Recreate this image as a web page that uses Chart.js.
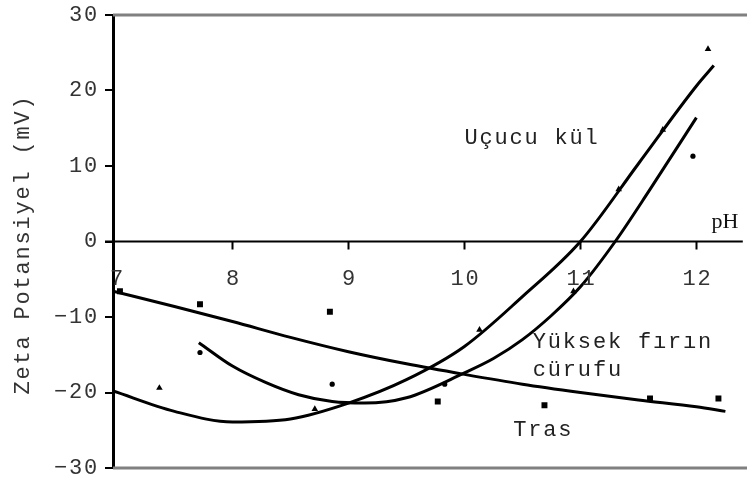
<!DOCTYPE html>
<html>
<head>
<meta charset="utf-8">
<script src="https://cdn.jsdelivr.net/npm/chart.js@4"></script>
<style>
  html, body { margin: 0; padding: 0; background: #fff; }
  #wrap { width: 747px; height: 479px; }
</style>
</head>
<body>
<div id="wrap"><canvas id="zetaChart" width="747" height="479"></canvas></div>
<script>
// Tick labels
const xTickLabels = [7, 8, 9, 10, 11, 12];
const yTickLabels = [30, 20, 10, 0, -10, -20, -30];

// Measured points (pH, zeta mV)
const trasPh = [7.03, 7.72, 8.84, 9.77, 10.69, 11.6, 12.19];
const trasZeta = [-6.6, -8.3, -9.3, -21.2, -21.7, -20.8, -20.8];

const curufPh = [7.72, 8.86, 9.83, 11.97];
const curufZeta = [-14.7, -18.9, -18.9, 11.3];

const kulPh = [7.37, 8.71, 10.13, 10.94, 11.33, 11.71, 12.1];
const kulZeta = [-19.4, -22.2, -11.7, -6.6, 6.9, 14.8, 25.5];

// Trend lines
const trasFitPh = [6.97, 7.5, 8.0, 8.5, 9.0, 9.5, 10.0, 10.5, 11.0, 11.5, 12.0, 12.25];
const trasFitZeta = [-6.6, -8.6, -10.6, -12.7, -14.6, -16.2, -17.6, -18.9, -20.0, -21.0, -21.9, -22.5];

const curufFitPh = [7.71, 8.0, 8.29, 8.57, 8.86, 9.14, 9.5, 10.0, 10.25, 10.5, 10.75, 11.0, 11.3, 11.6, 12.0];
const curufFitZeta = [-13.4, -16.5, -18.7, -20.3, -21.2, -21.4, -20.7, -17.4, -15.5, -13.0, -9.8, -6.0, 0, 6.9, 16.4];

const kulFitPh = [6.97, 7.5, 8.0, 8.5, 9.0, 9.5, 10.0, 10.5, 11.0, 11.5, 12.0, 12.15];
const kulFitZeta = [-19.8, -22.5, -23.9, -23.5, -21.4, -18.3, -13.9, -7.3, 0, 10.3, 20.6, 23.3];

const toXY = (xs, ys) => xs.map((x, i) => ({ x: x, y: ys[i] }));

const monoFont = '"Liberation Mono", "DejaVu Sans Mono", monospace';

function fitLine(label, xs, ys) {
    return {
        label: label,
        data: toXY(xs, ys),
        showLine: true,
        borderColor: '#000',
        borderWidth: 3,
        cubicInterpolationMode: 'monotone',
        pointRadius: 0,
        fill: false
    };
}

function markers(label, xs, ys, style, radius) {
    return {
        label: label,
        data: toXY(xs, ys),
        showLine: false,
        pointStyle: style,
        pointRadius: radius,
        pointBackgroundColor: '#000',
        pointBorderColor: '#000',
        pointBorderWidth: 0
    };
}

// Axis decorations, tick labels and series labels
const decorPlugin = {
    id: 'decor',
    beforeDatasetsDraw(chart) {
        const ctx = chart.ctx;
        const area = chart.chartArea;
        const xs = chart.scales.x;
        const ys = chart.scales.y;
        const y0 = ys.getPixelForValue(0);
        ctx.save();
        // gray frame top and bottom
        ctx.strokeStyle = '#808080';
        ctx.lineWidth = 3;
        ctx.beginPath();
        ctx.moveTo(area.left, area.top);
        ctx.lineTo(chart.width, area.top);
        ctx.moveTo(area.left, area.bottom);
        ctx.lineTo(chart.width, area.bottom);
        ctx.stroke();
        // zero line with ticks
        ctx.strokeStyle = '#000';
        ctx.lineWidth = 2;
        ctx.beginPath();
        ctx.moveTo(area.left - 8, y0);
        ctx.lineTo(area.right, y0);
        xTickLabels.forEach(v => {
            if (v === 7) return;
            const px = Math.round(xs.getPixelForValue(v)) + 0.5;
            ctx.moveTo(px, y0);
            ctx.lineTo(px, y0 + 8);
        });
        ctx.stroke();
        ctx.restore();
    },
    afterDraw(chart) {
        const ctx = chart.ctx;
        const area = chart.chartArea;
        const xs = chart.scales.x;
        const ys = chart.scales.y;
        const y0 = ys.getPixelForValue(0);

        // pH label
        ctx.save();
        ctx.font = '22px "Liberation Serif", serif';
        ctx.fillStyle = '#111';
        ctx.textAlign = 'left';
        ctx.textBaseline = 'middle';
        ctx.fillText('pH', xs.getPixelForValue(12.13), ys.getPixelForValue(2.6));
        ctx.restore();

        ctx.save();
        ctx.font = '22px ' + monoFont;
        ctx.letterSpacing = '1.8px';
        ctx.fillStyle = '#333';
        ctx.textBaseline = 'middle';
        // y tick labels
        ctx.textAlign = 'right';
        yTickLabels.forEach(v => {
            ctx.fillText(String(v).replace('-', '\u2212'), area.left - 14, ys.getPixelForValue(v));
        });
        // x tick labels
        ctx.textAlign = 'center';
        xTickLabels.forEach(v => {
            ctx.fillText(String(v), xs.getPixelForValue(v) + 1, y0 + 38);
        });
        // y axis title
        ctx.save();
        ctx.translate(23, (area.top + area.bottom) / 2 + 3);
        ctx.rotate(-Math.PI / 2);
        ctx.fillText('Zeta Potansiyel (mV)', 0, 0);
        ctx.restore();
        // series labels
        ctx.fillStyle = '#222';
        ctx.textAlign = 'left';
        ctx.fillText('Uçucu kül', xs.getPixelForValue(10.0), ys.getPixelForValue(13.7));
        ctx.fillText('Yüksek fırın', xs.getPixelForValue(10.59), ys.getPixelForValue(-13.3));
        ctx.fillText('cürufu', xs.getPixelForValue(10.59), ys.getPixelForValue(-17.1));
        ctx.fillText('Tras', xs.getPixelForValue(10.42), ys.getPixelForValue(-25.0));
        ctx.restore();
    }
};

new Chart(document.getElementById('zetaChart'), {
    type: 'scatter',
    data: {
        datasets: [
            fitLine('Tras eğri', trasFitPh, trasFitZeta),
            fitLine('Yüksek fırın cürufu eğri', curufFitPh, curufFitZeta),
            fitLine('Uçucu kül eğri', kulFitPh, kulFitZeta),
            markers('Tras', trasPh, trasZeta, 'rect', 4.2),
            markers('Yüksek fırın cürufu', curufPh, curufZeta, 'circle', 2.6),
            markers('Uçucu kül', kulPh, kulZeta, 'triangle', 3.8)
        ]
    },
    plugins: [decorPlugin],
    options: {
        responsive: false,
        animation: false,
        layout: { padding: { top: 15, bottom: 11, left: 0, right: 0 } },
        plugins: {
            legend: { display: false },
            tooltip: { enabled: false }
        },
        scales: {
            x: {
                type: 'linear',
                display: false,
                min: 6.97,
                max: 12.4
            },
            y: {
                type: 'linear',
                min: -30,
                max: 30,
                afterFit(scale) { scale.width = 113; },
                ticks: { stepSize: 10, display: false },
                grid: { drawOnChartArea: false, tickLength: 8, color: '#000', lineWidth: 2 },
                border: { color: '#000', width: 3 }
            }
        }
    }
});
</script>
</body>
</html>
